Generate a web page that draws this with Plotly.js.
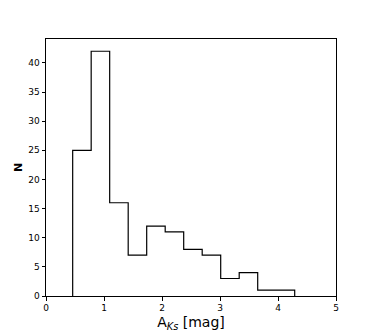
<!DOCTYPE html>
<html>
<head>
<meta charset="utf-8">
<script src="https://cdn.plot.ly/plotly-3.0.1.min.js"></script>
<style>
  body { margin: 0; background: #fff; }
  #hist { width: 374px; height: 332px; }
</style>
</head>
<body>
<div id="hist"></div>
<script>
// histogram of A_Ks: bin edges and counts
var binStart = 0.46;
var binWidth = 0.319;
var counts = [25, 42, 16, 7, 12, 11, 8, 7, 3, 4, 1, 1];

var edges = [];
for (var i = 0; i <= counts.length; i++) {
  edges.push(binStart + i * binWidth);
}

// step outline, like histtype='step'
var xs = [edges[0]].concat(edges);
var ys = [0].concat(counts).concat([0]);

var trace = {
  x: xs,
  y: ys,
  type: "scatter",
  mode: "lines",
  line: { shape: "hv", color: "#000000", width: 1.2 },
  hoverinfo: "skip",
};

var layout = {
  width: 374,
  height: 332,
  showlegend: false,
  paper_bgcolor: "#ffffff",
  plot_bgcolor: "#ffffff",
  font: { family: "DejaVu Sans", color: "#000000", size: 9 },
  margin: { l: 46, r: 38, t: 39, b: 36, pad: 0 },
  xaxis: {
    range: [0, 5],
    tickvals: [0, 1, 2, 3, 4, 5],
    ticks: "outside",
    ticklen: 3.5,
    tickwidth: 1,
    tickcolor: "#000000",
    showgrid: false,
    zeroline: false,
    showline: true,
    linecolor: "#000000",
    linewidth: 1,
    mirror: true,
    title: {
      text: "A<sub><i>Ks</i></sub> [mag]",
      font: { family: "DejaVu Sans", size: 14, color: "#000000" },
      standoff: 4,
    },
  },
  yaxis: {
    range: [0, 44.1],
    tickvals: [0, 5, 10, 15, 20, 25, 30, 35, 40],
    ticks: "outside",
    ticklen: 3.5,
    tickwidth: 1,
    tickcolor: "#000000",
    showgrid: false,
    zeroline: false,
    showline: true,
    linecolor: "#000000",
    linewidth: 1,
    mirror: true,
    title: {
      text: "<b>N</b>",
      font: { family: "DejaVu Sans", size: 11, color: "#000000" },
      standoff: 3,
    },
  },
};

Plotly.newPlot("hist", [trace], layout, { staticPlot: true });
</script>
</body>
</html>
